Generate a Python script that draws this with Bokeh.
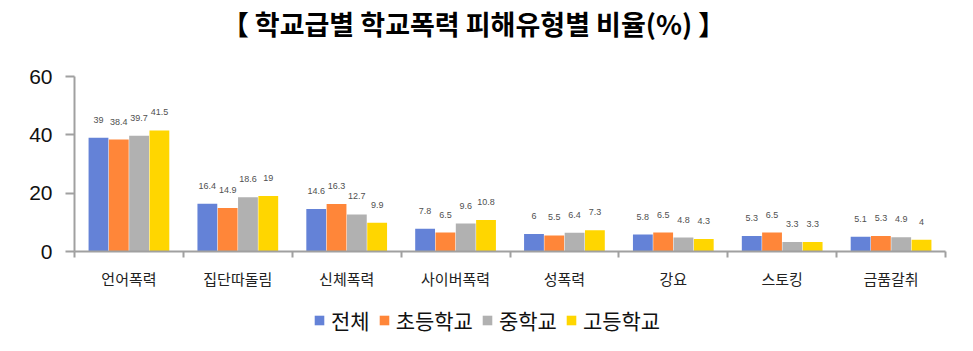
from bokeh.plotting import figure
from bokeh.layouts import column
from bokeh.models import (Range1d, FixedTicker, LinearAxis, Legend, LegendItem,
                          ColumnDataSource)
from bokeh.embed import file_html
from bokeh.resources import INLINE
from bokeh.core.properties import value

title_text = "【 학교급별 학교폭력 피해유형별 비율(%) 】"
categories = ["언어폭력", "집단따돌림", "신체폭력", "사이버폭력", "성폭력", "강요", "스토킹", "금품갈취"]
series_names = ["전체", "초등학교", "중학교", "고등학교"]
total = [39, 16.4, 14.6, 7.8, 6, 5.8, 5.3, 5.1]
elementary = [38.4, 14.9, 16.3, 6.5, 5.5, 6.5, 6.5, 5.3]
middle = [39.7, 18.6, 12.7, 9.6, 6.4, 4.8, 3.3, 4.9]
high = [41.5, 19, 9.9, 10.8, 7.3, 4.3, 3.3, 4]
y_ticks = [0, 20, 40, 60]
colors = ["#6482D7", "#FF8639", "#B1B1B1", "#FFD600"]

KFONT = "Noto Sans CJK KR"
W = 973
H_TITLE, H_MAIN, H_LEG = 60, 241, 50
FL, FR = 74, 945   # frame left / right in canvas pixels (shared by the column)


def bare_fig(h):
    f = figure(width=W, height=h, output_backend="svg", toolbar_location=None,
               x_range=Range1d(FL, FR), y_range=Range1d(0, h),
               min_border_left=FL, min_border_right=W - FR, min_border_top=0, min_border_bottom=0,
               x_axis_type=None, y_axis_type=None)
    f.outline_line_color = None
    f.grid.visible = False
    f.background_fill_color = "white"
    f.border_fill_color = "white"
    return f


# ---- title strip
tf = bare_fig(H_TITLE)
tf.text(x=[473], y=[H_TITLE - 23], text=[title_text], text_align="center",
        text_baseline="middle", text_font=value(KFONT), text_font_size="27px",
        text_font_style="bold", text_color="black")

# ---- main chart
p = figure(width=W, height=H_MAIN, output_backend="svg", toolbar_location=None,
           x_range=Range1d(0, 8), y_range=Range1d(0, 60),
           min_border_left=FL, min_border_right=W - FR, min_border_top=16, min_border_bottom=50,
           x_axis_type=None, y_axis_type=None)
p.outline_line_color = None
p.background_fill_color = "white"
p.border_fill_color = "white"

yaxis = LinearAxis(ticker=FixedTicker(ticks=y_ticks, minor_ticks=[]))
yaxis.axis_line_color = "#A0A0A0"
yaxis.axis_line_width = 2
yaxis.major_tick_line_color = "#A0A0A0"
yaxis.major_tick_line_width = 2
yaxis.major_tick_out = 9
yaxis.major_tick_in = 0
yaxis.major_label_text_font = "Liberation Sans"
yaxis.major_label_text_font_size = "21px"
yaxis.major_label_text_color = "#111111"
yaxis.major_label_standoff = 13
p.add_layout(yaxis, "left")

centers = [i + 0.5 for i in range(len(categories))]
bounds = [i for i in range(len(categories) + 1)]
xaxis = LinearAxis(ticker=FixedTicker(ticks=centers, minor_ticks=bounds))
xaxis.major_label_overrides = {c: name for c, name in zip(centers, categories)}
xaxis.axis_line_color = "#A0A0A0"
xaxis.axis_line_width = 2
xaxis.major_tick_out = 0
xaxis.major_tick_in = 0
xaxis.minor_tick_out = 6
xaxis.minor_tick_in = 0
xaxis.minor_tick_line_color = "#A0A0A0"
xaxis.minor_tick_line_width = 2
xaxis.major_label_text_font = KFONT
xaxis.major_label_text_font_size = "15px"
xaxis.major_label_text_color = "#222222"
xaxis.major_label_standoff = 10
p.add_layout(xaxis, "below")

p.ygrid.ticker = FixedTicker(ticks=y_ticks[1:])
p.ygrid.grid_line_color = "#A6A6A6"
p.ygrid.grid_line_width = 2
p.xgrid.visible = False

step = 0.1865
bw = 0.182
all_series = [total, elementary, middle, high]
for k, (vals, col) in enumerate(zip(all_series, colors)):
    xs = [i + 0.5 + (k - 1.5) * step for i in range(len(categories))]
    src = ColumnDataSource(dict(x=xs, top=vals, lab=[("%g" % v) for v in vals]))
    p.vbar(x="x", top="top", width=bw, bottom=0, source=src, fill_color=col, line_color=None)
    p.text(x="x", y="top", text="lab", source=src, text_align="center", text_baseline="middle",
           y_offset=-18, text_font=value("Liberation Sans"), text_font_size="9px",
           text_color="#505050")

# ---- legend strip
lf = bare_fig(H_LEG)
items = []
for name, col in zip(series_names, colors):
    r = lf.vbar(x=[-1.0e6], top=[0], width=1, fill_color=col, line_color=None)
    items.append(LegendItem(label=name, renderers=[r]))
legend = Legend(items=items, orientation="horizontal", location=(313 - FL, 16))
legend.label_text_font = KFONT
legend.label_text_font_size = "21px"
legend.label_text_color = "#111111"
legend.glyph_width = 12
legend.glyph_height = 12
legend.label_standoff = 6
legend.spacing = 8
legend.padding = 0
legend.margin = 0
legend.border_line_color = None
legend.background_fill_alpha = 0
lf.add_layout(legend, "center")

layout = column(tf, p, lf, spacing=0)
open("out.html", "w").write(file_html(layout, INLINE))
